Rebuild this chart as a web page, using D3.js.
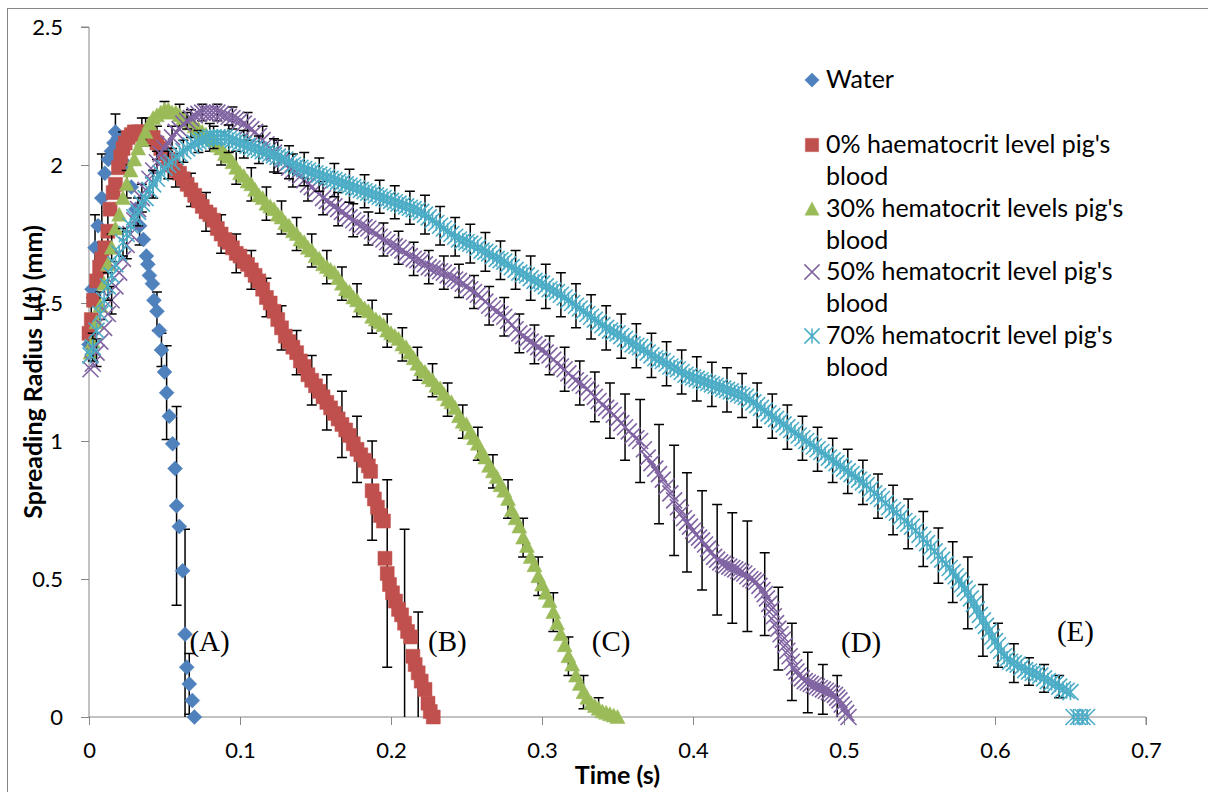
<!DOCTYPE html>
<html>
<head>
<meta charset="utf-8">
<script src="https://cdn.jsdelivr.net/npm/d3@7"></script>
<style>
  body { margin: 0; background: #fff; }
  svg { display: block; font-family: Lato, "Open Sans", sans-serif; }
</style>
</head>
<body>
<div id="chart"></div>
<script>
// spreading radius L(t) in mm against time in s
const water = [[0.000,1.35],[0.002,1.55],[0.004,1.70],[0.006,1.78],[0.0085,1.88],[0.0105,1.97],[0.0128,2.02],[0.0148,2.05],[0.0165,2.08],[0.0175,2.12],[0.0195,2.10],[0.022,2.06],[0.025,2.00],[0.028,1.92],[0.031,1.84],[0.0335,1.78],[0.036,1.73],[0.038,1.67],[0.039,1.64],[0.040,1.60],[0.042,1.57],[0.043,1.51],[0.045,1.47],[0.0466,1.40],[0.048,1.33],[0.050,1.25],[0.0514,1.175],[0.0532,1.09],[0.0554,0.99],[0.057,0.90],[0.058,0.765],[0.0598,0.69],[0.062,0.53],[0.0636,0.30],[0.0647,0.18],[0.0664,0.12],[0.0684,0.06],[0.0698,0.0]];

const blood0 = [[0.000,1.39],[0.0015,1.44],[0.003,1.51],[0.005,1.58],[0.007,1.63],[0.0085,1.66],[0.0105,1.70],[0.0125,1.76],[0.014,1.84],[0.016,1.90],[0.0175,1.93],[0.0195,1.99],[0.021,2.03],[0.0225,2.06],[0.024,2.08],[0.026,2.10],[0.028,2.11],[0.030,2.12],[0.0325,2.12],[0.035,2.12],[0.0375,2.11],[0.040,2.11],[0.0425,2.10],[0.045,2.08],[0.0475,2.06],[0.050,2.04],[0.0525,2.02],[0.055,2.00],[0.0575,1.98],[0.060,1.97],[0.0625,1.95],[0.065,1.93],[0.0675,1.91],[0.070,1.89],[0.0725,1.87],[0.075,1.85],[0.0775,1.83],[0.080,1.82],[0.0825,1.80],[0.085,1.77],[0.0875,1.75],[0.090,1.73],[0.0925,1.72],[0.095,1.70],[0.0975,1.68],[0.100,1.67],[0.1025,1.65],[0.105,1.64],[0.1075,1.62],[0.110,1.60],[0.1125,1.58],[0.115,1.55],[0.1175,1.52],[0.120,1.50],[0.1225,1.47],[0.125,1.44],[0.1275,1.41],[0.130,1.38],[0.1325,1.36],[0.135,1.34],[0.1375,1.32],[0.140,1.29],[0.1425,1.27],[0.145,1.24],[0.1475,1.22],[0.150,1.20],[0.1525,1.18],[0.155,1.16],[0.1575,1.14],[0.160,1.12],[0.1625,1.10],[0.165,1.08],[0.1675,1.06],[0.170,1.04],[0.1725,1.02],[0.175,0.99],[0.1775,0.97],[0.180,0.95],[0.1825,0.93],[0.185,0.91],[0.1865,0.89],[0.1875,0.82],[0.189,0.79],[0.191,0.76],[0.193,0.73],[0.195,0.71],[0.196,0.575],[0.1975,0.52],[0.199,0.48],[0.201,0.45],[0.203,0.42],[0.205,0.39],[0.207,0.37],[0.209,0.34],[0.211,0.31],[0.213,0.29],[0.2145,0.22],[0.216,0.19],[0.218,0.16],[0.220,0.13],[0.2225,0.10],[0.2245,0.05],[0.226,0.02],[0.228,0.0]];

const blood30 = [[0.001,1.32],[0.0025,1.36],[0.005,1.43],[0.0075,1.49],[0.010,1.57],[0.0125,1.64],[0.015,1.70],[0.0175,1.77],[0.020,1.82],[0.0225,1.88],[0.025,1.93],[0.0275,1.98],[0.030,2.02],[0.0325,2.06],[0.035,2.09],[0.0375,2.12],[0.040,2.15],[0.0425,2.17],[0.045,2.18],[0.0475,2.19],[0.050,2.20],[0.0525,2.20],[0.055,2.19],[0.0575,2.19],[0.060,2.18],[0.0625,2.17],[0.065,2.16],[0.0675,2.15],[0.070,2.14],[0.0725,2.13],[0.075,2.12],[0.0775,2.11],[0.080,2.10],[0.0825,2.09],[0.085,2.07],[0.0875,2.06],[0.090,2.04],[0.0925,2.03],[0.095,2.01],[0.0975,1.99],[0.100,1.97],[0.1025,1.96],[0.105,1.94],[0.1075,1.93],[0.110,1.91],[0.1125,1.89],[0.115,1.88],[0.1175,1.86],[0.120,1.85],[0.1225,1.84],[0.125,1.82],[0.1275,1.81],[0.130,1.79],[0.1325,1.78],[0.135,1.76],[0.1375,1.75],[0.140,1.73],[0.1425,1.72],[0.145,1.70],[0.1475,1.69],[0.150,1.67],[0.1525,1.66],[0.155,1.64],[0.1575,1.63],[0.160,1.62],[0.1625,1.61],[0.165,1.59],[0.1675,1.57],[0.170,1.55],[0.1725,1.54],[0.175,1.52],[0.1775,1.51],[0.180,1.49],[0.1825,1.48],[0.185,1.47],[0.1875,1.45],[0.190,1.44],[0.1925,1.43],[0.195,1.42],[0.1975,1.40],[0.200,1.39],[0.2025,1.38],[0.205,1.37],[0.2075,1.35],[0.210,1.34],[0.2125,1.32],[0.215,1.30],[0.2175,1.28],[0.220,1.26],[0.2225,1.25],[0.225,1.23],[0.2275,1.22],[0.230,1.20],[0.2325,1.19],[0.235,1.17],[0.2375,1.15],[0.240,1.14],[0.2425,1.12],[0.245,1.09],[0.2475,1.07],[0.250,1.06],[0.2525,1.03],[0.255,1.01],[0.2575,0.99],[0.260,0.96],[0.2625,0.94],[0.265,0.91],[0.2675,0.89],[0.270,0.87],[0.2725,0.84],[0.275,0.82],[0.2775,0.79],[0.280,0.75],[0.2825,0.72],[0.285,0.69],[0.2875,0.65],[0.290,0.62],[0.2925,0.58],[0.295,0.55],[0.2975,0.51],[0.300,0.48],[0.3025,0.45],[0.305,0.42],[0.3075,0.38],[0.310,0.34],[0.3125,0.30],[0.315,0.26],[0.3175,0.22],[0.320,0.19],[0.3225,0.15],[0.325,0.12],[0.3275,0.09],[0.330,0.07],[0.3325,0.05],[0.335,0.04],[0.3375,0.03],[0.340,0.02],[0.3425,0.015],[0.345,0.01],[0.3475,0.005],[0.350,0.0]];

const blood50 = [[0.001,1.26],[0.0025,1.28],[0.005,1.32],[0.0075,1.36],[0.010,1.41],[0.0125,1.46],[0.015,1.51],[0.0175,1.56],[0.020,1.61],[0.0225,1.66],[0.025,1.71],[0.0275,1.75],[0.030,1.80],[0.0325,1.84],[0.035,1.88],[0.0375,1.91],[0.040,1.95],[0.0425,1.98],[0.045,2.01],[0.0475,2.04],[0.050,2.06],[0.0525,2.08],[0.055,2.10],[0.0575,2.12],[0.060,2.13],[0.0625,2.15],[0.065,2.16],[0.0675,2.17],[0.070,2.18],[0.0725,2.185],[0.075,2.19],[0.0775,2.19],[0.080,2.19],[0.0825,2.19],[0.085,2.19],[0.0875,2.185],[0.090,2.18],[0.0925,2.175],[0.095,2.17],[0.0975,2.165],[0.100,2.16],[0.1025,2.15],[0.105,2.14],[0.1075,2.13],[0.110,2.12],[0.1125,2.105],[0.115,2.09],[0.1175,2.075],[0.120,2.06],[0.1225,2.045],[0.125,2.03],[0.1275,2.015],[0.130,2.00],[0.1325,1.99],[0.135,1.98],[0.1375,1.97],[0.140,1.96],[0.1425,1.945],[0.145,1.93],[0.1475,1.92],[0.150,1.91],[0.1525,1.895],[0.155,1.88],[0.1575,1.87],[0.160,1.86],[0.1625,1.85],[0.165,1.84],[0.1675,1.83],[0.170,1.82],[0.1725,1.81],[0.175,1.80],[0.1775,1.79],[0.180,1.78],[0.1825,1.775],[0.185,1.77],[0.1875,1.76],[0.190,1.75],[0.1925,1.74],[0.195,1.73],[0.1975,1.72],[0.200,1.71],[0.2025,1.705],[0.205,1.70],[0.2075,1.69],[0.210,1.68],[0.2125,1.67],[0.215,1.66],[0.2175,1.655],[0.220,1.65],[0.2225,1.64],[0.225,1.63],[0.2275,1.625],[0.230,1.62],[0.2325,1.615],[0.235,1.61],[0.2375,1.60],[0.240,1.59],[0.2425,1.585],[0.245,1.58],[0.2475,1.57],[0.250,1.56],[0.2525,1.55],[0.255,1.54],[0.2575,1.53],[0.260,1.52],[0.2625,1.505],[0.265,1.49],[0.2675,1.48],[0.270,1.47],[0.2725,1.46],[0.275,1.45],[0.2775,1.435],[0.280,1.42],[0.2825,1.405],[0.285,1.39],[0.2875,1.38],[0.290,1.37],[0.2925,1.36],[0.295,1.35],[0.2975,1.34],[0.300,1.33],[0.3025,1.32],[0.305,1.31],[0.3075,1.295],[0.310,1.28],[0.3125,1.27],[0.315,1.26],[0.3175,1.245],[0.320,1.23],[0.3225,1.22],[0.325,1.21],[0.3275,1.20],[0.330,1.19],[0.3325,1.175],[0.335,1.16],[0.3375,1.145],[0.340,1.13],[0.3425,1.12],[0.345,1.11],[0.3475,1.095],[0.350,1.08],[0.3525,1.065],[0.355,1.05],[0.3575,1.035],[0.360,1.02],[0.3625,1.01],[0.365,1.00],[0.3675,0.97],[0.370,0.94],[0.3725,0.92],[0.375,0.90],[0.3775,0.88],[0.380,0.86],[0.3825,0.835],[0.385,0.81],[0.3875,0.785],[0.390,0.76],[0.392,0.74],[0.394,0.72],[0.396,0.705],[0.398,0.69],[0.400,0.675],[0.402,0.66],[0.404,0.65],[0.406,0.64],[0.408,0.625],[0.410,0.61],[0.412,0.595],[0.414,0.58],[0.416,0.57],[0.418,0.56],[0.420,0.555],[0.422,0.55],[0.424,0.545],[0.426,0.54],[0.428,0.535],[0.430,0.53],[0.432,0.525],[0.434,0.52],[0.436,0.51],[0.438,0.50],[0.440,0.495],[0.442,0.49],[0.444,0.475],[0.446,0.46],[0.4475,0.445],[0.449,0.43],[0.4505,0.41],[0.452,0.39],[0.4535,0.365],[0.455,0.34],[0.4565,0.32],[0.458,0.30],[0.4595,0.28],[0.461,0.26],[0.4625,0.24],[0.464,0.22],[0.4655,0.20],[0.467,0.18],[0.4685,0.165],[0.470,0.15],[0.472,0.14],[0.474,0.13],[0.476,0.125],[0.478,0.12],[0.480,0.115],[0.482,0.11],[0.484,0.105],[0.486,0.10],[0.488,0.095],[0.490,0.09],[0.492,0.085],[0.494,0.08],[0.4955,0.07],[0.497,0.06],[0.4985,0.045],[0.500,0.03],[0.5015,0.015],[0.503,0.0]];

const blood70 = [[0.001,1.31],[0.0025,1.34],[0.005,1.40],[0.0075,1.46],[0.010,1.51],[0.0125,1.56],[0.015,1.60],[0.0175,1.64],[0.020,1.68],[0.0225,1.72],[0.025,1.75],[0.0275,1.78],[0.030,1.81],[0.0325,1.83],[0.035,1.86],[0.0375,1.88],[0.040,1.91],[0.0425,1.93],[0.045,1.95],[0.0475,1.97],[0.050,1.99],[0.0525,2.00],[0.055,2.01],[0.0575,2.03],[0.060,2.04],[0.0625,2.05],[0.065,2.06],[0.0675,2.07],[0.070,2.08],[0.0725,2.085],[0.075,2.09],[0.0775,2.095],[0.080,2.10],[0.0825,2.10],[0.085,2.10],[0.0875,2.10],[0.090,2.10],[0.0925,2.095],[0.095,2.09],[0.0975,2.085],[0.100,2.08],[0.1025,2.075],[0.105,2.07],[0.1075,2.065],[0.110,2.06],[0.1125,2.055],[0.115,2.05],[0.1175,2.045],[0.120,2.04],[0.1225,2.035],[0.125,2.03],[0.1275,2.025],[0.130,2.02],[0.1325,2.01],[0.135,2.00],[0.1375,1.995],[0.140,1.99],[0.1425,1.985],[0.145,1.98],[0.1475,1.975],[0.150,1.97],[0.1525,1.965],[0.155,1.96],[0.1575,1.955],[0.160,1.95],[0.1625,1.945],[0.165,1.94],[0.1675,1.935],[0.170,1.93],[0.1725,1.925],[0.175,1.92],[0.1775,1.915],[0.180,1.91],[0.1825,1.905],[0.185,1.90],[0.1875,1.895],[0.190,1.89],[0.1925,1.885],[0.195,1.88],[0.1975,1.875],[0.200,1.87],[0.2025,1.865],[0.205,1.86],[0.2075,1.855],[0.210,1.85],[0.2125,1.845],[0.215,1.84],[0.2175,1.835],[0.220,1.83],[0.2225,1.82],[0.225,1.81],[0.2275,1.80],[0.230,1.79],[0.2325,1.78],[0.235,1.77],[0.2375,1.76],[0.240,1.75],[0.2425,1.74],[0.245,1.73],[0.2475,1.725],[0.250,1.72],[0.2525,1.715],[0.255,1.71],[0.2575,1.70],[0.260,1.69],[0.2625,1.685],[0.265,1.68],[0.2675,1.67],[0.270,1.66],[0.2725,1.655],[0.275,1.65],[0.2775,1.64],[0.280,1.63],[0.2825,1.62],[0.285,1.61],[0.2875,1.605],[0.290,1.60],[0.2925,1.59],[0.295,1.58],[0.2975,1.575],[0.300,1.57],[0.3025,1.56],[0.305,1.55],[0.3075,1.545],[0.310,1.54],[0.3125,1.53],[0.315,1.52],[0.3175,1.51],[0.320,1.50],[0.3225,1.49],[0.325,1.48],[0.3275,1.47],[0.330,1.46],[0.3325,1.45],[0.335,1.44],[0.3375,1.43],[0.340,1.42],[0.3425,1.41],[0.345,1.40],[0.3475,1.395],[0.350,1.39],[0.3525,1.38],[0.355,1.37],[0.3575,1.36],[0.360,1.35],[0.3625,1.345],[0.365,1.34],[0.3675,1.33],[0.370,1.32],[0.3725,1.31],[0.375,1.30],[0.3775,1.295],[0.380,1.29],[0.3825,1.28],[0.385,1.27],[0.3875,1.265],[0.390,1.26],[0.3925,1.25],[0.395,1.24],[0.3975,1.235],[0.400,1.23],[0.4025,1.225],[0.405,1.22],[0.4075,1.215],[0.410,1.21],[0.4125,1.205],[0.415,1.20],[0.4175,1.195],[0.420,1.19],[0.4225,1.185],[0.425,1.18],[0.4275,1.175],[0.430,1.17],[0.4325,1.165],[0.435,1.16],[0.4375,1.15],[0.440,1.14],[0.4425,1.13],[0.445,1.12],[0.4475,1.11],[0.450,1.10],[0.4525,1.09],[0.455,1.08],[0.4575,1.07],[0.460,1.06],[0.4625,1.05],[0.465,1.04],[0.4675,1.03],[0.470,1.02],[0.4725,1.01],[0.475,1.00],[0.4775,0.99],[0.480,0.98],[0.4825,0.97],[0.485,0.96],[0.4875,0.95],[0.490,0.94],[0.4925,0.93],[0.495,0.92],[0.4975,0.91],[0.500,0.90],[0.5025,0.89],[0.505,0.88],[0.5075,0.87],[0.510,0.86],[0.5125,0.85],[0.515,0.84],[0.5175,0.825],[0.520,0.81],[0.5225,0.80],[0.525,0.79],[0.5275,0.775],[0.530,0.76],[0.5325,0.75],[0.535,0.74],[0.5375,0.725],[0.540,0.71],[0.5425,0.70],[0.545,0.69],[0.5475,0.675],[0.550,0.66],[0.5525,0.645],[0.555,0.63],[0.5575,0.615],[0.560,0.60],[0.5625,0.585],[0.565,0.57],[0.5675,0.555],[0.570,0.54],[0.572,0.525],[0.574,0.51],[0.576,0.495],[0.578,0.48],[0.580,0.465],[0.582,0.45],[0.584,0.43],[0.586,0.41],[0.588,0.39],[0.590,0.37],[0.592,0.35],[0.594,0.33],[0.596,0.31],[0.598,0.29],[0.600,0.275],[0.602,0.26],[0.604,0.24],[0.606,0.22],[0.608,0.21],[0.610,0.20],[0.6125,0.195],[0.615,0.19],[0.6175,0.18],[0.620,0.17],[0.6225,0.165],[0.625,0.16],[0.6275,0.155],[0.630,0.15],[0.6325,0.14],[0.635,0.13],[0.6375,0.125],[0.640,0.12],[0.6425,0.11],[0.645,0.10],[0.6475,0.095],[0.650,0.09],[0.652,0.0],[0.655,0.0],[0.658,0.0],[0.661,0.0]];

// error bars: [time, +/- error]
const waterErr = [[0.004,0.12],[0.0085,0.16],[0.0175,0.065],[0.0335,0.07],[0.045,0.07],[0.048,0.06],[0.0514,0.17],[0.058,0.36],[0.0636,0.38],[0.0664,0.11]];
const blood0Err = [[0.0015,0.08],[0.0125,0.07],[0.0225,0.06],[0.035,0.05],[0.045,0.06],[0.0575,0.06],[0.0675,0.06],[0.0775,0.07],[0.0875,0.07],[0.0975,0.07],[0.1075,0.07],[0.1175,0.07],[0.1275,0.08],[0.1375,0.08],[0.1475,0.09],[0.1575,0.10],[0.1675,0.12],[0.1775,0.12],[0.1875,0.18],[0.1975,0.34],[0.209,0.34],[0.218,0.22]];
const blood30Err = [[0.0075,0.05],[0.015,0.05],[0.025,0.05],[0.0375,0.05],[0.050,0.03],[0.060,0.04],[0.0675,0.05],[0.080,0.05],[0.0875,0.06],[0.0975,0.06],[0.1075,0.06],[0.1175,0.06],[0.1275,0.06],[0.1375,0.06],[0.1475,0.06],[0.1575,0.06],[0.1675,0.06],[0.1775,0.06],[0.1875,0.06],[0.1975,0.06],[0.2075,0.06],[0.2175,0.06],[0.2275,0.06],[0.2375,0.06],[0.2475,0.06],[0.2575,0.06],[0.2675,0.06],[0.2775,0.07],[0.2875,0.07],[0.2975,0.07],[0.3075,0.07],[0.3175,0.07],[0.3275,0.06],[0.3375,0.04]];
const blood50Err = [[0.005,0.05],[0.015,0.05],[0.025,0.05],[0.035,0.05],[0.045,0.04],[0.055,0.04],[0.065,0.03],[0.075,0.03],[0.085,0.03],[0.095,0.04],[0.105,0.05],[0.115,0.05],[0.125,0.06],[0.135,0.06],[0.145,0.06],[0.155,0.06],[0.165,0.06],[0.175,0.06],[0.185,0.06],[0.195,0.06],[0.205,0.06],[0.215,0.06],[0.225,0.06],[0.235,0.06],[0.245,0.06],[0.255,0.06],[0.265,0.07],[0.275,0.07],[0.285,0.07],[0.295,0.07],[0.305,0.07],[0.315,0.08],[0.325,0.08],[0.335,0.09],[0.345,0.10],[0.355,0.12],[0.365,0.15],[0.3775,0.18],[0.3875,0.20],[0.396,0.18],[0.406,0.18],[0.416,0.20],[0.426,0.20],[0.436,0.20],[0.4475,0.15],[0.4565,0.15],[0.4655,0.14],[0.476,0.11],[0.486,0.09],[0.4955,0.08]];
const blood70Err = [[0.0025,0.05],[0.0125,0.05],[0.0225,0.05],[0.0325,0.05],[0.0425,0.05],[0.0525,0.05],[0.0625,0.04],[0.0725,0.04],[0.0825,0.04],[0.0925,0.05],[0.1025,0.05],[0.1125,0.05],[0.1225,0.06],[0.1325,0.06],[0.1425,0.06],[0.1525,0.06],[0.1625,0.06],[0.1725,0.06],[0.1825,0.06],[0.1925,0.06],[0.2025,0.06],[0.2125,0.06],[0.2225,0.07],[0.2325,0.07],[0.2425,0.07],[0.2525,0.07],[0.2625,0.07],[0.2725,0.07],[0.2825,0.07],[0.2925,0.08],[0.3025,0.08],[0.3125,0.08],[0.3225,0.08],[0.3325,0.08],[0.3425,0.08],[0.3525,0.08],[0.3625,0.08],[0.3725,0.08],[0.3825,0.08],[0.3925,0.08],[0.4025,0.08],[0.4125,0.08],[0.4225,0.08],[0.4325,0.08],[0.4425,0.08],[0.4525,0.08],[0.4625,0.08],[0.4725,0.08],[0.4825,0.08],[0.4925,0.08],[0.5025,0.08],[0.5125,0.08],[0.5225,0.08],[0.5325,0.09],[0.5425,0.09],[0.5525,0.10],[0.5625,0.10],[0.572,0.11],[0.582,0.13],[0.592,0.13],[0.602,0.08],[0.6125,0.07],[0.6225,0.05],[0.6325,0.05],[0.6425,0.04]];

const legendLabels = [["Water"], ["0% haematocrit level pig's", "blood"], ["30% hematocrit levels pig's", "blood"], ["50% hematocrit level pig's", "blood"], ["70% hematocrit level pig's", "blood"]];
const curveTags = [["(A)", 0.0665, 0.24], ["(B)", 0.2245, 0.24], ["(C)", 0.333, 0.24], ["(D)", 0.498, 0.235], ["(E)", 0.641, 0.275]];
const xTicks = [0, 0.1, 0.2, 0.3, 0.4, 0.5, 0.6, 0.7];
const yTicks = [0, 0.5, 1, 1.5, 2, 2.5];

const width = 1208, height = 792;

const shapes = {
    diamond: "M0,-7.5L7.5,0L0,7.5L-7.5,0Z",
    square: "M-7,-7H7V7H-7Z",
    triangle: "M0,-7.5L7.5,6.5H-7.5Z",
    cross: "M-8,-8L8,8M-8,8L8,-8",
    star: "M-8,-8L8,8M-8,8L8,-8M0,-8V8"
};

const series = [
    { data: water, err: waterErr, color: "#4F81BD", shape: "diamond", filled: true },
    { data: blood0, err: blood0Err, color: "#C0504D", shape: "square", filled: true },
    { data: blood30, err: blood30Err, color: "#9BBB59", shape: "triangle", filled: true },
    { data: blood50, err: blood50Err, color: "#8064A2", shape: "cross", filled: false },
    { data: blood70, err: blood70Err, color: "#4BACC6", shape: "star", filled: false }
];

const svg = d3.select("#chart").append("svg")
    .attr("width", width)
    .attr("height", height);

// chart area border
svg.append("rect")
    .attr("x", 7.5).attr("y", 8.5)
    .attr("width", 1300).attr("height", 900)
    .attr("fill", "none")
    .attr("stroke", "#868686");

const x = d3.scaleLinear().domain([0, 0.7]).range([89, 1146]);
const y = d3.scaleLinear().domain([0, 2.5]).range([717, 27]);

const fmt = d3.format("~g");

const yAxis = svg.append("g")
    .attr("transform", `translate(${x(0)},0)`)
    .call(d3.axisLeft(y).tickValues(yTicks).tickSize(8).tickPadding(18).tickFormat(fmt));

const xAxis = svg.append("g")
    .attr("transform", `translate(0,${y(0)})`)
    .call(d3.axisBottom(x).tickValues(xTicks).tickSize(8).tickPadding(17).tickFormat(fmt));

[xAxis, yAxis].forEach(a => {
    a.select(".domain").attr("stroke", "#868686");
    a.selectAll(".tick line").attr("stroke", "#868686");
    a.selectAll(".tick text").attr("fill", "#000").style("font-size", "22px").style("font-family", "Lato, sans-serif");
});
yAxis.select(".domain").attr("d", `M-8,${y(2.5)}H0V${y(0)}`);
xAxis.select(".domain").attr("d", `M${x(0)},0H${x(0.7)}V8`);

// axis titles
svg.append("text")
    .attr("x", (x(0) + x(0.7)) / 2)
    .attr("y", 784)
    .attr("text-anchor", "middle")
    .style("font-size", "25px")
    .style("font-weight", "bold")
    .text("Time (s)");

svg.append("text")
    .attr("transform", `translate(42,${(y(0) + y(2.5)) / 2}) rotate(-90)`)
    .attr("text-anchor", "middle")
    .style("font-size", "25px")
    .style("font-weight", "bold")
    .text("Spreading Radius L(t) (mm)");

const plot = svg.append("g");

function nearest(data, t) {
    return d3.least(data, d => Math.abs(d[0] - t));
}

series.forEach(s => {
    plot.append("g")
        .attr("stroke", "#000")
        .attr("stroke-width", 1.5)
        .selectAll("path")
        .data(s.err)
        .join("path")
        .attr("d", e => {
            const p = nearest(s.data, e[0]);
            const cx = x(p[0]);
            const top = y(Math.min(2.5, p[1] + e[1]));
            const bot = y(Math.max(0, p[1] - e[1]));
            return `M${cx - 5},${top}H${cx + 5}M${cx},${top}V${bot}` + (p[1] - e[1] > 0 ? `M${cx - 5},${bot}H${cx + 5}` : "");
        });

    plot.append("g")
        .selectAll("path")
        .data(s.data)
        .join("path")
        .attr("transform", d => `translate(${x(d[0])},${y(d[1])})`)
        .attr("d", shapes[s.shape])
        .attr("fill", s.filled ? s.color : "none")
        .attr("stroke", s.color)
        .attr("stroke-width", s.filled ? 0.5 : 1.6);
});

// curve tags
svg.append("g")
    .selectAll("text")
    .data(curveTags)
    .join("text")
    .attr("x", d => x(d[1]))
    .attr("y", d => y(d[2]))
    .style("font-family", "'Liberation Serif', 'Times New Roman', serif")
    .style("font-size", "29px")
    .text(d => d[0]);

// legend
const legendY = [80, 145, 209, 272, 336];
const legend = svg.append("g");
series.forEach((s, i) => {
    legend.append("path")
        .attr("transform", `translate(812,${legendY[i]}) scale(0.95)`)
        .attr("d", shapes[s.shape])
        .attr("fill", s.filled ? s.color : "none")
        .attr("stroke", s.color)
        .attr("stroke-width", s.filled ? 0.5 : 1.6);
    legendLabels[i].forEach((line, j) => {
        legend.append("text")
            .attr("x", 826)
            .attr("y", legendY[i] + 8 + j * 32)
            .style("font-size", "25px")
            .text(line);
    });
});
</script>
</body>
</html>
